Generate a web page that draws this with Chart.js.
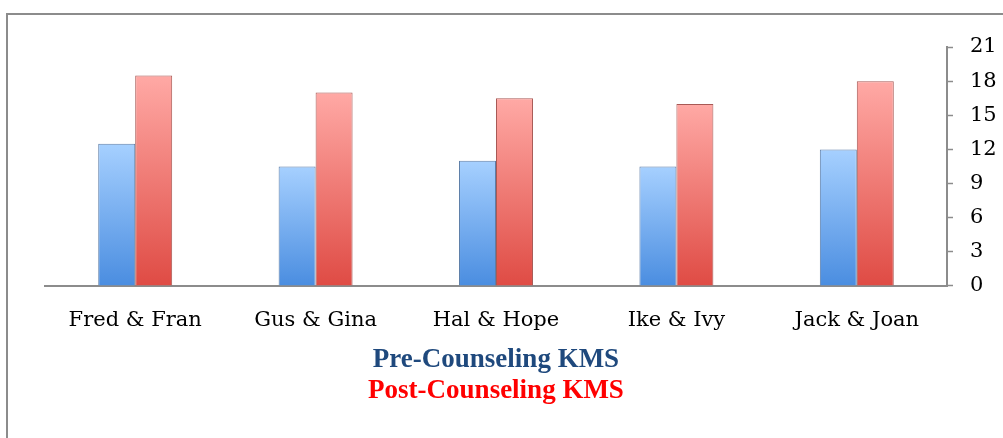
<!DOCTYPE html>
<html>
<head>
<meta charset="utf-8">
<script src="https://cdn.jsdelivr.net/npm/chart.js@4.4.1/dist/chart.umd.min.js"></script>
<style>
  body { margin: 0; background: #fff; }
  #frame {
    position: absolute; left: 6px; top: 13px;
    width: 997px; height: 425px;
    border-left: 2px solid #8c8c8c; border-top: 2px solid #8c8c8c;
  }
  #kmsChart { display: block; }
</style>
</head>
<body>
<div id="frame"><canvas id="kmsChart" width="995" height="423"></canvas></div>
<script>
        // Couples and their KMS scores
        const couples = ['Fred & Fran', 'Gus & Gina', 'Hal & Hope', 'Ike & Ivy', 'Jack & Joan'];
        const preCounseling = [12.5, 10.5, 11, 10.5, 12];
        const postCounseling = [18.5, 17, 16.5, 16, 18];
        const yTicks = [0, 3, 6, 9, 12, 15, 18, 21];

        // Gradient running down each bar (light top, darker bottom)
        function barGradient(context, top, bottom) {
            const chart = context.chart;
            const yScale = chart.scales.y;
            if (!chart.chartArea || !yScale || context.raw === undefined) return bottom;
            const yTop = yScale.getPixelForValue(context.raw);
            const yBase = yScale.getPixelForValue(0);
            const g = chart.ctx.createLinearGradient(0, yBase, 0, yTop);
            g.addColorStop(0, bottom);
            g.addColorStop(1, top);
            return g;
        }

        const legendFont = { family: 'Liberation Serif', size: 27, weight: 'bold', lineHeight: 1.15 };

        const ctx = document.getElementById('kmsChart').getContext('2d');

        new Chart(ctx, {
            type: 'bar',
            data: {
                labels: couples,
                datasets: [{
                    label: 'Pre-Counseling KMS',
                    data: preCounseling,
                    backgroundColor: c => barGradient(c, '#a6d0ff', '#4a8de0'),
                    borderColor: '#5d7ea8',
                    borderWidth: 1,
                    categoryPercentage: 0.41,
                    barPercentage: 1.0
                }, {
                    label: 'Post-Counseling KMS',
                    data: postCounseling,
                    backgroundColor: c => barGradient(c, '#ffa9a5', '#df4b44'),
                    borderColor: '#a85955',
                    borderWidth: 1,
                    categoryPercentage: 0.41,
                    barPercentage: 1.0
                }]
            },
            options: {
                responsive: false,
                animation: false,
                layout: { padding: { left: 37, right: 6, top: 32, bottom: 0 } },
                plugins: {
                    legend: { display: false },
                    tooltip: { enabled: false },
                    subtitle: {
                        display: true,
                        position: 'bottom',
                        fullSize: false,
                        text: 'Pre-Counseling KMS',
                        color: '#1f497d',
                        font: legendFont,
                        padding: { top: 11, bottom: 0 }
                    },
                    title: {
                        display: true,
                        position: 'bottom',
                        fullSize: false,
                        text: 'Post-Counseling KMS',
                        color: '#ff0000',
                        font: legendFont,
                        padding: { top: 0, bottom: 31 }
                    }
                },
                scales: {
                    x: {
                        grid: { display: false, drawTicks: false },
                        border: { color: '#8c8c8c', width: 2 },
                        ticks: {
                            color: '#000',
                            padding: 22,
                            font: { family: 'DejaVu Serif', size: 21 }
                        },
                        afterFit: axis => { axis.height = 48; }
                    },
                    y: {
                        position: 'right',
                        min: 0,
                        max: 21,
                        afterBuildTicks: axis => { axis.ticks = yTicks.map(v => ({ value: v })); },
                        grid: { drawOnChartArea: false, color: '#8c8c8c', tickLength: 6, tickWidth: 1.5 },
                        border: { color: '#8c8c8c', width: 2 },
                        ticks: {
                            color: '#000',
                            padding: 17,
                            font: { family: 'DejaVu Serif', size: 21 }
                        },
                        afterFit: axis => { axis.width = 50; }
                    }
                }
            }
        });
</script>
</body>
</html>
